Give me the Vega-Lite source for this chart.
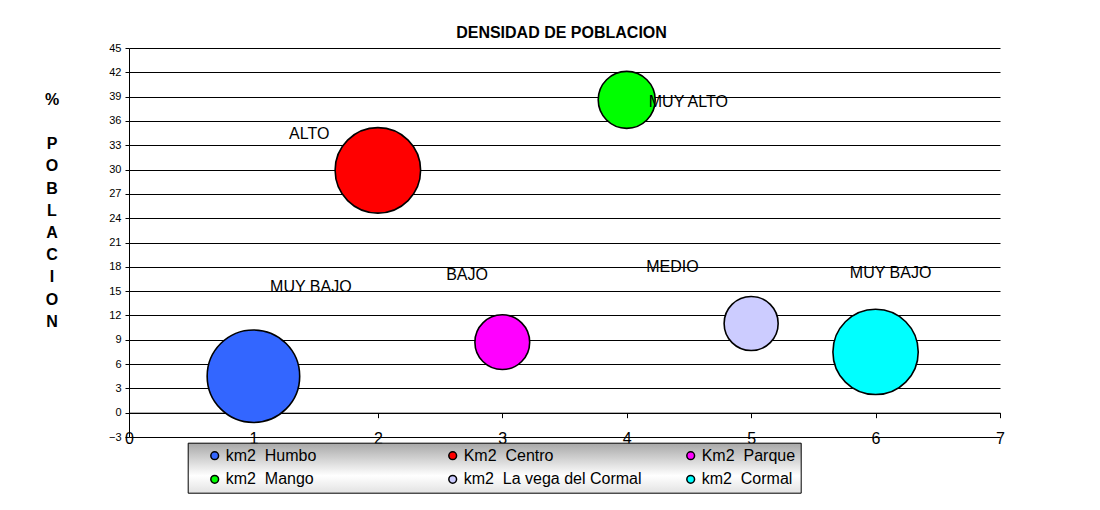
{
  "$schema": "https://vega.github.io/schema/vega-lite/v6.json",
  "width": 871,
  "height": 389,
  "autosize": {"type": "none"},
  "padding": {"left": 129, "top": 48, "right": 100, "bottom": 73},
  "background": "white",
  "config": {
    "font": "Liberation Sans",
    "view": {"stroke": null}
  },
  "title": {
    "text": "DENSIDAD DE POBLACION",
    "fontSize": 16,
    "fontWeight": "bold",
    "color": "black",
    "anchor": "middle",
    "frame": "group",
    "baseline": "alphabetic",
    "offset": -12,
    "dx": -3
  },
  "data": {
    "values": [
      {"zona": "km2\u00a0\u00a0Humbo", "x": 1, "y": 4.5, "area": 8.56, "nivel": "MUY BAJO"},
      {"zona": "Km2\u00a0\u00a0Centro", "x": 2, "y": 29.9, "area": 7.31, "nivel": "ALTO"},
      {"zona": "Km2\u00a0\u00a0Parque", "x": 3, "y": 8.7, "area": 3.0, "nivel": "BAJO"},
      {"zona": "km2\u00a0\u00a0Mango", "x": 4, "y": 38.6, "area": 3.25, "nivel": "MUY ALTO"},
      {"zona": "km2\u00a0\u00a0La vega del Cormal", "x": 5, "y": 11.0, "area": 2.92, "nivel": "MEDIO"},
      {"zona": "km2\u00a0\u00a0Cormal", "x": 6, "y": 7.5, "area": 7.28, "nivel": "MUY BAJO"}
    ]
  },
  "resolve": {"axis": {"y": "independent"}},
  "encoding": {
    "x": {
      "field": "x",
      "type": "quantitative",
      "scale": {"domain": [0, 7], "nice": false, "zero": false},
      "axis": {
        "title": null,
        "values": [0, 1, 2, 3, 4, 5, 6, 7],
        "grid": false,
        "offset": -24.3,
        "domainColor": "black",
        "domainWidth": 1,
        "tickColor": "black",
        "tickSize": 5,
        "labelFontSize": 16,
        "labelColor": "black",
        "labelPadding": 13,
        "labelFlush": false
      }
    },
    "y": {
      "field": "y",
      "type": "quantitative",
      "scale": {"domain": [-3, 45], "nice": false, "zero": false},
      "axis": null
    }
  },
  "layer": [
    {
      "mark": {"type": "point", "shape": "circle", "filled": true, "opacity": 1, "stroke": "black", "strokeWidth": 1.6},
      "encoding": {
        "y": {
          "field": "y",
          "type": "quantitative",
          "scale": {"domain": [-3, 45], "nice": false, "zero": false},
          "axis": {
            "orient": "left",
            "values": [-3, 0, 3, 6, 9, 12, 15, 18, 21, 24, 27, 30, 33, 36, 39, 42, 45],
            "grid": true,
            "gridColor": "black",
            "gridWidth": 1,
            "gridOpacity": 1,
            "domainColor": "black",
            "tickColor": "black",
            "tickSize": 4,
            "labelFontSize": 11,
            "labelColor": "black",
            "labelPadding": 4,
            "title": ["P", "O", "B", "L", "A", "C", "I", "O", "N"],
            "titleAngle": 0,
            "titleAlign": "center",
            "titleBaseline": "alphabetic",
            "titleFontSize": 16,
            "titleFontWeight": "bold",
            "titleColor": "black",
            "titleLineHeight": 22.2,
            "titleX": -77.5,
            "titleY": 100.7
          }
        },
        "size": {
          "field": "area",
          "type": "quantitative",
          "scale": {"type": "linear", "domain": [0, 10], "range": [0, 10000], "zero": true},
          "legend": null
        },
        "color": {
          "field": "zona",
          "type": "nominal",
          "scale": {
            "domain": ["km2\u00a0\u00a0Humbo", "km2\u00a0\u00a0Mango", "Km2\u00a0\u00a0Centro", "km2\u00a0\u00a0La vega del Cormal", "Km2\u00a0\u00a0Parque", "km2\u00a0\u00a0Cormal"],
            "range": ["#3366FF", "#00FF00", "#FF0000", "#CCCCFF", "#FF00FF", "#00FFFF"]
          },
          "legend": {
            "title": null,
            "orient": "none",
            "legendX": 58.7,
            "legendY": 394.7,
            "columns": 3,
            "gridAlign": "all",
            "columnPadding": 27,
            "rowPadding": 7.6,
            "padding": 5,
            "symbolType": "circle",
            "symbolSize": 60,
            "symbolStrokeWidth": 1.5,
            "symbolStrokeColor": "black",
            "symbolOpacity": 1,
            "symbolOffset": 14,
            "labelOffset": 3,
            "labelFontSize": 16,
            "labelColor": "black",
            "labelLimit": 400,
            "strokeColor": "black",
            "encode": {
              "legend": {
                "update": {
                  "fill": {"value": {"gradient": "linear", "x1": 0, "y1": 0, "x2": 0, "y2": 1, "stops": [
                    {"offset": 0, "color": "#a8a8a8"},
                    {"offset": 0.65, "color": "#ffffff"},
                    {"offset": 1, "color": "#e2e2e2"}
                  ]}},
                  "stroke": {"value": "black"},
                  "strokeWidth": {"value": 1}
                }
              }
            }
          }
        }
      }
    },
    {
      "transform": [{"filter": "datum.x == 1"}],
      "mark": {"type": "text", "fontSize": 16, "color": "black", "align": "center", "baseline": "middle", "dx": 57.4, "dy": -89},
      "encoding": {
        "text": {"field": "nivel"},
        "y": {
          "field": "y",
          "type": "quantitative",
          "scale": {"domain": [-3, 45], "nice": false, "zero": false},
          "axis": {
            "orient": "left",
            "title": "%",
            "labels": false,
            "ticks": false,
            "domain": false,
            "grid": false,
            "titleAngle": 0,
            "titleAlign": "center",
            "titleBaseline": "alphabetic",
            "titleFontSize": 16,
            "titleFontWeight": "bold",
            "titleColor": "black",
            "titleX": -77.5,
            "titleY": 56.3
          }
        }
      }
    },
    {
      "transform": [{"filter": "datum.x == 2"}],
      "mark": {"type": "text", "fontSize": 16, "color": "black", "align": "center", "baseline": "middle", "dx": -68.6, "dy": -36.4},
      "encoding": {"text": {"field": "nivel"}}
    },
    {
      "transform": [{"filter": "datum.x == 3"}],
      "mark": {"type": "text", "fontSize": 16, "color": "black", "align": "center", "baseline": "middle", "dx": -35.2, "dy": -67.5},
      "encoding": {"text": {"field": "nivel"}}
    },
    {
      "transform": [{"filter": "datum.x == 4"}],
      "mark": {"type": "text", "fontSize": 16, "color": "black", "align": "center", "baseline": "middle", "dx": 61.6, "dy": 1.8},
      "encoding": {"text": {"field": "nivel"}}
    },
    {
      "transform": [{"filter": "datum.x == 5"}],
      "mark": {"type": "text", "fontSize": 16, "color": "black", "align": "center", "baseline": "middle", "dx": -78.7, "dy": -56.3},
      "encoding": {"text": {"field": "nivel"}}
    },
    {
      "transform": [{"filter": "datum.x == 6"}],
      "mark": {"type": "text", "fontSize": 16, "color": "black", "align": "center", "baseline": "middle", "dx": 15, "dy": -78.6},
      "encoding": {"text": {"field": "nivel"}}
    }
  ]
}
